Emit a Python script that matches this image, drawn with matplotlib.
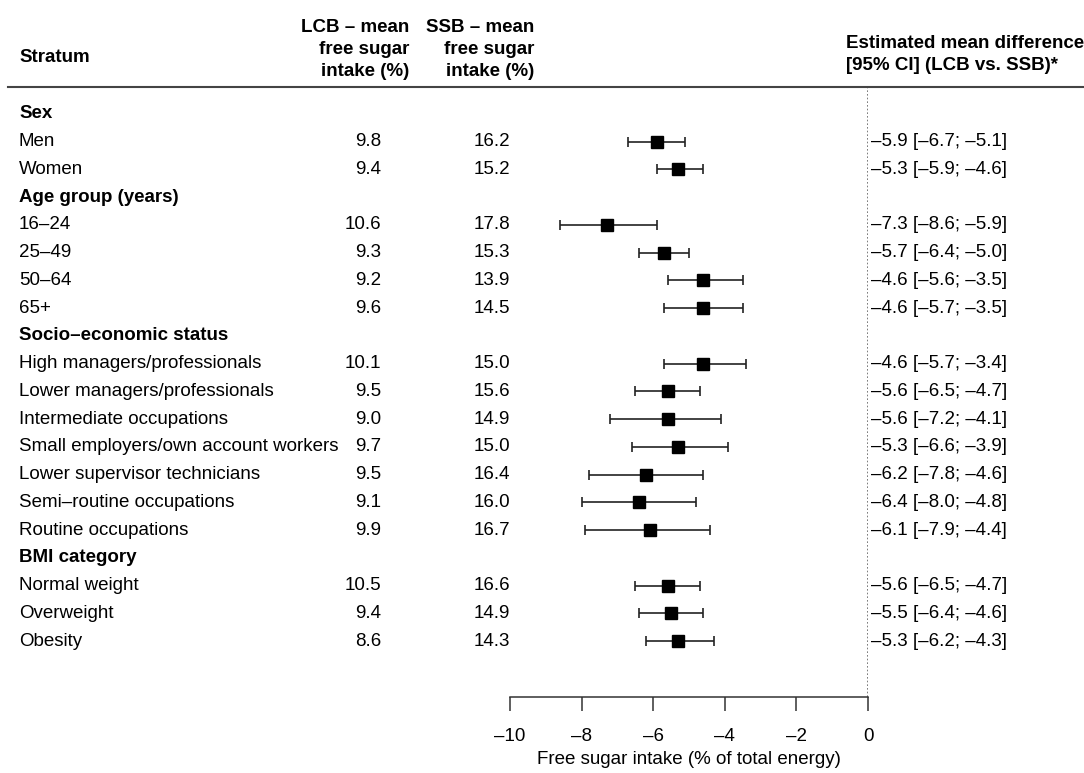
import matplotlib as mpl
import matplotlib.pyplot as plt
import matplotlib.transforms as mtransforms

mpl.rcParams['font.family'] = ['Liberation Sans', 'DejaVu Sans']
mpl.rcParams['font.size'] = 13.5

# data
groups = ['Sex', 'Age group (years)', 'Socio–economic status', 'BMI category']
strata = [
    ['Men', 'Women'],
    ['16–24', '25–49', '50–64', '65+'],
    ['High managers/professionals', 'Lower managers/professionals',
     'Intermediate occupations', 'Small employers/own account workers',
     'Lower supervisor technicians', 'Semi–routine occupations',
     'Routine occupations'],
    ['Normal weight', 'Overweight', 'Obesity'],
]
lcb = [9.8, 9.4, 10.6, 9.3, 9.2, 9.6, 10.1, 9.5, 9.0, 9.7, 9.5, 9.1, 9.9, 10.5, 9.4, 8.6]
ssb = [16.2, 15.2, 17.8, 15.3, 13.9, 14.5, 15.0, 15.6, 14.9, 15.0, 16.4, 16.0, 16.7, 16.6, 14.9, 14.3]
diff = [-5.9, -5.3, -7.3, -5.7, -4.6, -4.6, -4.6, -5.6, -5.6, -5.3, -6.2, -6.4, -6.1, -5.6, -5.5, -5.3]
ci_lo = [-6.7, -5.9, -8.6, -6.4, -5.6, -5.7, -5.7, -6.5, -7.2, -6.6, -7.8, -8.0, -7.9, -6.5, -6.4, -6.2]
ci_hi = [-5.1, -4.6, -5.9, -5.0, -3.5, -3.5, -3.4, -4.7, -4.1, -3.9, -4.6, -4.8, -4.4, -4.7, -4.6, -4.3]
xticks = [-10, -8, -6, -4, -2, 0]


def dash(v):
    return f'{v:.1f}'.replace('-', '–')


W, H = 1084, 773
fig = plt.figure(figsize=(W / 100, H / 100), dpi=100)

# forest axes: x -10..0 maps to pixels 510..868, bottom spine at y=697
top_px, bot_px = 88, 697
ax = fig.add_axes([510 / W, 1 - bot_px / H, 358 / W, (bot_px - top_px) / H])
row0, step = 114, 27.74
ax.set_xlim(-10, 0)
ax.set_ylim((bot_px - row0) / step, (top_px - row0) / step)
for s in ['top', 'right', 'left']:
    ax.spines[s].set_visible(False)
ax.spines['bottom'].set_color('#333333')
ax.spines['bottom'].set_linewidth(1.1)
ax.set_yticks([])
ax.set_xticks(xticks)
ax.set_xticklabels([dash(t).replace('.0', '') for t in xticks])
ax.tick_params(axis='x', length=10, width=1.1, color='#333333', pad=12)
ax.set_xlabel('Free sugar intake (% of total energy)', labelpad=5)
ax.axvline(0, color='#666666', ls=(0, (1, 1.2)), lw=1.2)

tr = mtransforms.blended_transform_factory(fig.transFigure, ax.transData)


def fx(px):
    return px / W


row = 0
k = 0
for g, labs in zip(groups, strata):
    ax.text(fx(19), row, g, transform=tr, fontweight='bold', va='center', ha='left')
    row += 1
    for lab in labs:
        ax.text(fx(19), row, lab, transform=tr, va='center', ha='left')
        ax.text(fx(381), row, f'{lcb[k]:.1f}', transform=tr, va='center', ha='right')
        ax.text(fx(510), row, f'{ssb[k]:.1f}', transform=tr, va='center', ha='right')
        ax.errorbar(diff[k], row, xerr=[[diff[k] - ci_lo[k]], [ci_hi[k] - diff[k]]],
                    fmt='s', color='black', ecolor='#222222', elinewidth=1.2,
                    capsize=3.6, capthick=1.2, markersize=8, clip_on=False)
        ax.text(fx(871), row, f'{dash(diff[k])} [{dash(ci_lo[k])}; {dash(ci_hi[k])}]',
                transform=tr, va='center', ha='left')
        row += 1
        k += 1

# header
fig.add_artist(plt.Line2D([8 / W, 1], [1 - 87 / H, 1 - 87 / H], color='#444444', lw=1.5))
fig.text(fx(19), 1 - 58 / H, 'Stratum', fontweight='bold', va='center', ha='left')
for x_right, name in [(409, 'LCB'), (534, 'SSB')]:
    for y, line in zip([28, 50, 72], [f'{name} – mean', 'free sugar', 'intake (%)']):
        fig.text(fx(x_right), 1 - y / H, line, fontweight='bold', va='center', ha='right')
fig.text(fx(846), 1 - 43 / H, 'Estimated mean difference', fontweight='bold', va='center', ha='left')
fig.text(fx(846), 1 - 66 / H, '[95% CI] (LCB vs. SSB)*', fontweight='bold', va='center', ha='left')

fig.savefig('out.png', dpi=100)
